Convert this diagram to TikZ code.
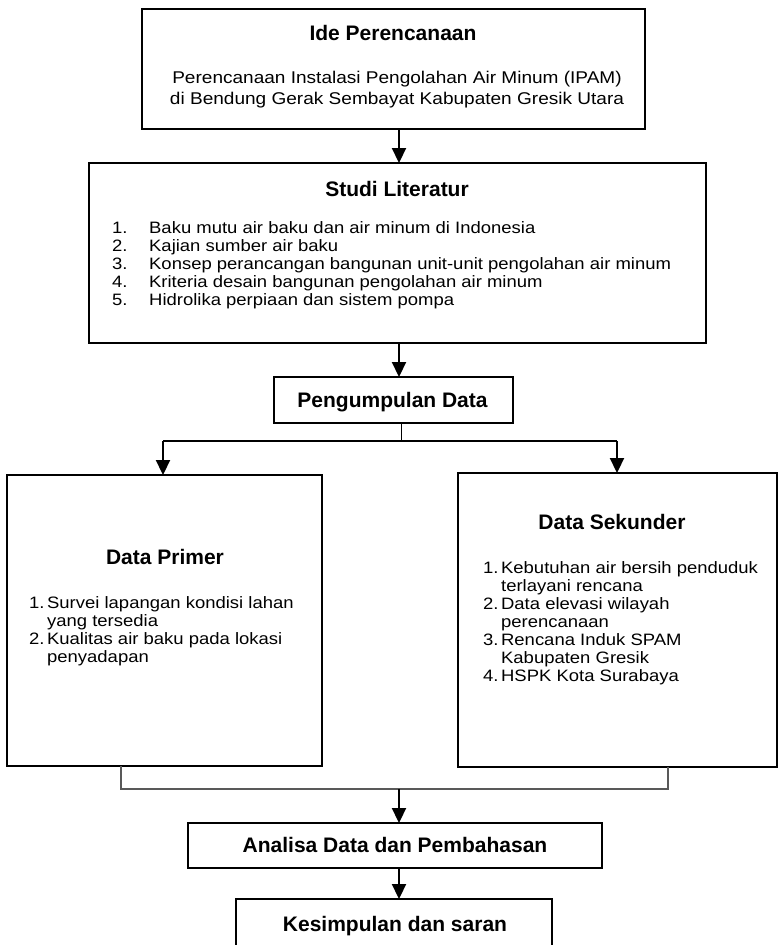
\documentclass[tikz,border=0pt]{standalone}
\usepackage{graphicx}
\usepackage{fontspec}
\setmainfont{Liberation Sans}
\usetikzlibrary{arrows.meta}
\newcommand\widetext[1]{\scalebox{1.12}[1]{#1}}
\begin{document}
\begin{tikzpicture}[x=1pt,y=-1pt,
  boxnode/.style={draw=black, line width=2.4pt, inner sep=0pt, outer sep=0pt, rectangle, anchor=north west},
  ttl/.style={font={\fontsize{21}{24}\selectfont\bfseries}, inner sep=0pt, anchor=base},
  bodytext/.style={font={\fontsize{17}{21}\selectfont}, inner sep=0pt},
  listtext/.style={font={\fontsize{16.5}{18}\selectfont}, inner sep=0pt, anchor=base west},
  arr/.style={line width=2.2pt, -{Triangle[width=14pt,length=15pt]}},
  branch/.style={line width=1.4pt},
  merge/.style={draw=black!65, line width=1.6pt}]
\useasboundingbox (0,0) rectangle (780,945);

% boxes
\node[boxnode, minimum width=503pt, minimum height=120pt] (ide) at (142,9) {};
\node[boxnode, minimum width=617pt, minimum height=180pt] (studi) at (89,163) {};
\node[boxnode, minimum width=239pt, minimum height=46pt] (peng) at (274,377) {};
\node[boxnode, minimum width=315pt, minimum height=291pt] (prim) at (7,475) {};
\node[boxnode, minimum width=319pt, minimum height=294pt] (sek) at (458,473) {};
\node[boxnode, minimum width=414pt, minimum height=45pt] (anal) at (188,823) {};
\node[boxnode, minimum width=316pt, minimum height=80pt] (kes) at (236,899) {};

% texts
\node[ttl] (idettl) at (393,40.5) {Ide Perencanaan};
\node[bodytext, anchor=base] (idetxt) at (397,83) {\widetext{\begin{tabular}[t]{@{}c@{}}Perencanaan Instalasi Pengolahan Air Minum (IPAM)\\ di Bendung Gerak Sembayat Kabupaten Gresik Utara\end{tabular}}};

\node[ttl] (studittl) at (397,196.5) {Studi Literatur};
\node[listtext] (studilist) at (112,233) {\widetext{\begin{tabular}[t]{@{}l@{}l@{}}
\makebox[33pt][l]{1.} & Baku mutu air baku dan air minum di Indonesia\\
\makebox[33pt][l]{2.} & Kajian sumber air baku\\
\makebox[33pt][l]{3.} & Konsep perancangan bangunan unit-unit pengolahan air minum\\
\makebox[33pt][l]{4.} & Kriteria desain bangunan pengolahan air minum\\
\makebox[33pt][l]{5.} & Hidrolika perpiaan dan sistem pompa
\end{tabular}}};

\node[ttl] (pengttl) at (392.5,407.5) {Pengumpulan Data};

\node[ttl] (primttl) at (165,564.5) {Data Primer};
\node[listtext] (primlist) at (29,608) {\widetext{\begin{tabular}[t]{@{}l@{}l@{}}
\makebox[16pt][l]{1.} & Survei lapangan kondisi lahan\\
 & yang tersedia\\
\makebox[16pt][l]{2.} & Kualitas air baku pada lokasi\\
 & penyadapan
\end{tabular}}};

\node[ttl] (sekttl) at (612,529.5) {Data Sekunder};
\node[listtext] (seklist) at (483,573) {\widetext{\begin{tabular}[t]{@{}l@{}l@{}}
\makebox[16pt][l]{1.} & Kebutuhan air bersih penduduk\\
 & terlayani rencana\\
\makebox[16pt][l]{2.} & Data elevasi wilayah\\
 & perencanaan\\
\makebox[16pt][l]{3.} & Rencana Induk SPAM\\
 & Kabupaten Gresik\\
\makebox[16pt][l]{4.} & HSPK Kota Surabaya
\end{tabular}}};

\node[ttl] (analttl) at (395,852.5) {Analisa Data dan Pembahasan};
\node[ttl] (kesttl) at (395,931.5) {Kesimpulan dan saran};

% connector coordinates
\coordinate (ax) at (399,0);
\coordinate (bc) at (401,441);
\coordinate (bl) at (163,441);
\coordinate (brr) at (617,441);
\coordinate (ml) at (121,789);
\coordinate (mr) at (668,789);

% connectors
\draw[arr] (ide.south -| ax) -- (studi.north -| ax);
\draw[arr] (studi.south -| ax) -- (peng.north -| ax);
\draw[line width=1pt] (peng.south -| bc) -- (bc);
\draw[branch] (bl) -- (brr);
\draw[arr] (bl) -- (bl |- prim.north);
\draw[arr] (brr) -- (brr |- sek.north);
\draw[merge] (prim.south -| ml) -- (ml) -- (mr) -- (sek.south -| mr);
\draw[arr] (ml -| ax) -- (anal.north -| ax);
\draw[arr] (anal.south -| ax) -- (kes.north -| ax);
\end{tikzpicture}
\end{document}
